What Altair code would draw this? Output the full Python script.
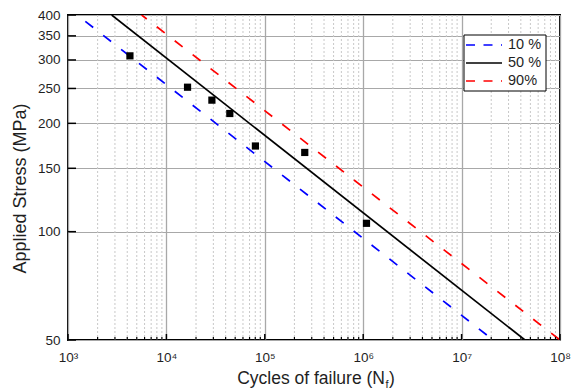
import altair as alt
import pandas as pd

# Fatigue test results: cycles to failure and applied stress amplitude
cycles = [4260, 16400, 29000, 44100, 80300, 254700, 1080000]
stress = [308, 252, 232, 213, 173, 166, 105.5]

# S-N curves for three failure probabilities, each given by its end points
curve_labels = ["10 %", "50 %", "90%"]
curve_colors = ["#0000ff", "#000000", "#ff0000"]
curve_n_start = [1500, 2780, 5600]
curve_s_start = [384, 400, 400]
curve_n_end = [2.0e7, 4.4e7, 1.0e8]
curve_s_end = [50.5, 50, 50]

# Axis ticks
y_ticks = [50, 100, 150, 200, 250, 300, 350, 400]
x_ticks = [1e3, 1e4, 1e5, 1e6, 1e7, 1e8]
x_minor = [m * 10 ** e for e in range(3, 8) for m in range(2, 10)]

W, H = 492, 325
FONT = "Liberation Sans"
TXT = "#1f1f1f"
GRID = "#a8a8a8"

xs = alt.Scale(type="log", domain=[1e3, 1e8], nice=False)
ys = alt.Scale(type="log", domain=[50, 400], nice=False)

sup = "['\u2070','\u00b9','\u00b2','\u00b3','\u2074','\u2075','\u2076','\u2077','\u2078','\u2079']"
x_axis = alt.Axis(
    values=x_ticks,
    labelExpr=f"'10' + {sup}[round(log(datum.value) / LN10)]",
    grid=True, gridColor=GRID, gridWidth=1.3,
    ticks=False, tickSize=0, domain=False,
    labelFont=FONT, labelFontSize=13.5, labelColor=TXT,
    labelPadding=10, labelFlush=False, labelOverlap=False,
    title=None,
)
y_axis = alt.Axis(
    values=y_ticks, format="d",
    grid=True, gridColor=GRID, gridWidth=1.2,
    ticks=False, tickSize=0, domain=False,
    labelFont=FONT, labelFontSize=13.5, labelColor=TXT,
    labelPadding=8, labelOverlap=False,
    title="Applied Stress (MPa)",
    titleFont=FONT, titleFontSize=18, titleFontWeight="normal", titleColor=TXT,
    titleAngle=270, titleAlign="center", titleBaseline="middle",
    titleX=-48, titleY=173,
)

X = alt.X("N:Q", scale=xs, axis=x_axis)
Y = alt.Y("S:Q", scale=ys, axis=y_axis)

layers = []

# dotted minor grid lines at 2..9 x 10^k
minor_df = pd.DataFrame({"N": x_minor})
layers.append(
    alt.Chart(minor_df).mark_rule(color="#c8c8c8", strokeWidth=1, strokeDash=[2, 2])
    .encode(x=X, y=alt.value(0), y2=alt.value(H))
)

# S-N curves
dash_patterns = {"10 %": [10, 12.7], "50 %": [], "90%": [10, 12.7]}
dash_offsets = {"10 %": 0, "50 %": 0, "90%": 3.5}
for lab, col, n0, s0, n1, s1 in zip(curve_labels, curve_colors, curve_n_start,
                                    curve_s_start, curve_n_end, curve_s_end):
    df = pd.DataFrame({"N": [n0, n1], "S": [s0, s1]})
    props = dict(color=col, strokeWidth=1.7, clip=True)
    if dash_patterns[lab]:
        props["strokeDash"] = dash_patterns[lab]
        props["strokeDashOffset"] = dash_offsets[lab]
    layers.append(alt.Chart(df).mark_line(**props).encode(x=X, y=Y))

# measured points
pts = pd.DataFrame({"N": cycles, "S": stress})
layers.append(
    alt.Chart(pts).mark_square(size=52, color="black", opacity=1).encode(x=X, y=Y)
)

# inward tick marks
layers.append(
    alt.Chart(pd.DataFrame({"S": y_ticks})).mark_rule(color="black", strokeWidth=1.5)
    .encode(y=Y, x=alt.value(0), x2=alt.value(8))
)
layers.append(
    alt.Chart(pd.DataFrame({"N": x_ticks})).mark_rule(color="black", strokeWidth=1.5)
    .encode(x=X, y=alt.value(H), y2=alt.value(H - 6))
)
layers.append(
    alt.Chart(minor_df).mark_rule(color="black", strokeWidth=1.2)
    .encode(x=X, y=alt.value(H), y2=alt.value(H - 3))
)

# legend box
one = pd.DataFrame({"k": [0]})
layers.append(
    alt.Chart(one).mark_rect(fill="white", stroke="black", strokeWidth=1)
    .encode(x=alt.value(396), x2=alt.value(478), y=alt.value(20), y2=alt.value(76))
)
for i, (lab, col) in enumerate(zip(curve_labels, curve_colors)):
    row_y = 30 + 18 * i
    props = dict(color=col, strokeWidth=1.7)
    if dash_patterns[lab]:
        props["strokeDash"] = [9, 8.5]
    layers.append(
        alt.Chart(one).mark_rule(**props)
        .encode(x=alt.value(398), x2=alt.value(434), y=alt.value(row_y))
    )
    layers.append(
        alt.Chart(pd.DataFrame({"t": [lab]}))
        .mark_text(align="left", baseline="middle", font=FONT, fontSize=14.5, color=TXT)
        .encode(text="t:N", x=alt.value(440), y=alt.value(row_y))
    )

# x-axis title with subscripted f
title_main = "Cycles of failure (N"
layers.append(
    alt.Chart(pd.DataFrame({"t": [title_main]}))
    .mark_text(align="right", baseline="alphabetic", font=FONT, fontSize=17.5, color=TXT)
    .encode(text="t:N", x=alt.value(317), y=alt.value(369))
)
layers.append(
    alt.Chart(pd.DataFrame({"t": ["f"]}))
    .mark_text(align="left", baseline="alphabetic", font=FONT, fontSize=11, color=TXT)
    .encode(text="t:N", x=alt.value(317.5), y=alt.value(373))
)
layers.append(
    alt.Chart(pd.DataFrame({"t": [")"]}))
    .mark_text(align="left", baseline="alphabetic", font=FONT, fontSize=17.5, color=TXT)
    .encode(text="t:N", x=alt.value(321), y=alt.value(369))
)

chart = (
    alt.layer(*layers)
    .properties(
        width=W, height=H,
        padding={"left": 68, "top": 15, "right": 11, "bottom": 50},
        autosize=alt.AutoSizeParams(type="none"),
        background="white",
    )
    .configure_view(stroke="black", strokeWidth=2)
)

chart.save("out.html", embed_options={"renderer": "svg", "actions": False})
